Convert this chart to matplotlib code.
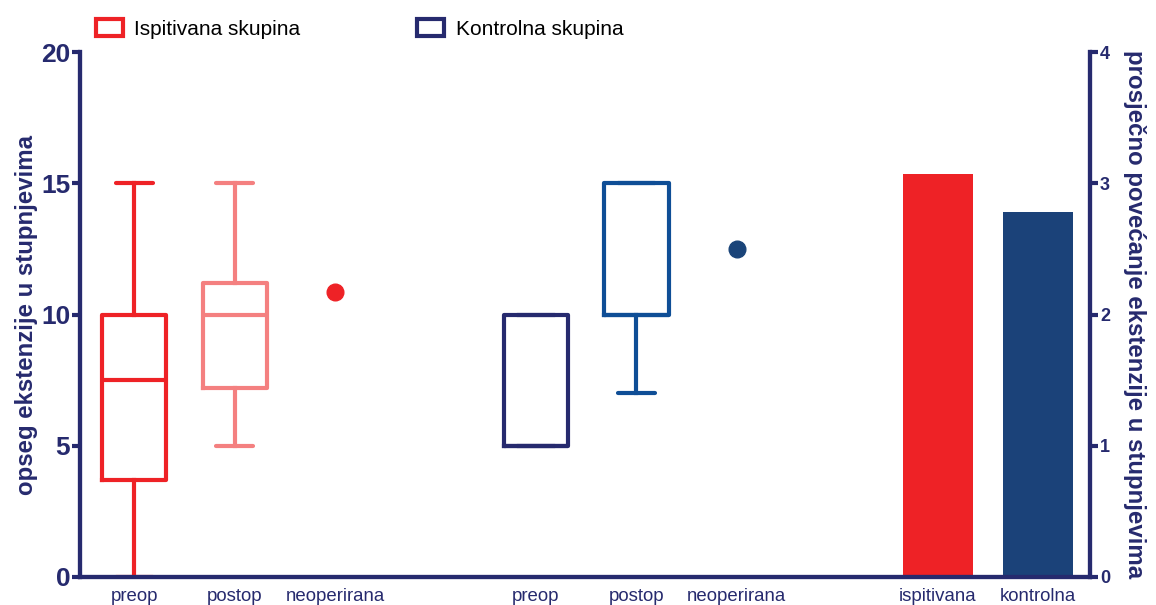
import matplotlib.pyplot as plt
from matplotlib.patches import Patch

plt.rcParams['font.family'] = ['Liberation Sans', 'DejaVu Sans']

NAVY = '#262A6E'

# box plot data (left axis, degrees)
box_pos = [1, 2, 5, 6]
box_whislo = [0, 5, 5, 7]
box_q1 = [3.7, 7.2, 5, 10]
box_med = [7.5, 10, 5, 10]
box_q3 = [10, 11.2, 10, 15]
box_whishi = [15, 15, 10, 15]
box_colors = ['#EE2226', '#F48080', '#262A6E', '#0F4E96']

# single points (neoperirana)
pt_pos = [3, 7]
pt_vals = [10.86, 12.5]
pt_colors = ['#EE2226', '#1A4479']

# bars (right axis, average increase)
bar_pos = [9, 10]
bar_vals = [3.07, 2.78]
bar_colors = ['#EE2226', '#1B4279']

tick_pos = [1, 2, 3, 5, 6, 7, 9, 10]
tick_labels = ['preop', 'postop', 'neoperirana', 'preop', 'postop',
               'neoperirana', 'ispitivana', 'kontrolna']

fig = plt.figure(figsize=(11.56, 6.05), dpi=100)
ax = fig.add_axes([0.0692, 0.0463, 0.874, 0.8677])
ax2 = ax.twinx()

stats = []
for i in range(len(box_pos)):
    stats.append(dict(whislo=box_whislo[i], q1=box_q1[i], med=box_med[i],
                      q3=box_q3[i], whishi=box_whishi[i], fliers=[]))
lw = 3
res = ax.bxp(stats, positions=box_pos, widths=0.64, showfliers=False,
             capwidths=0.37, manage_ticks=False)
for i, c in enumerate(box_colors):
    res['boxes'][i].set(color=c, linewidth=lw, solid_joinstyle='round')
    res['medians'][i].set(color=c, linewidth=lw)
    for j in (2 * i, 2 * i + 1):
        res['whiskers'][j].set(color=c, linewidth=lw)
        res['caps'][j].set(color=c, linewidth=lw, solid_capstyle='round')

for p, v, c in zip(pt_pos, pt_vals, pt_colors):
    ax.plot(p, v, 'o', color=c, markersize=12)

ax2.bar(bar_pos, bar_vals, width=0.7, color=bar_colors)

ax.set_xlim(0.46, 10.52)
ax.set_ylim(0, 20)
ax2.set_ylim(0, 4)
ax.set_yticks([0, 5, 10, 15, 20])
ax2.set_yticks([0, 1, 2, 3, 4])
ax.set_xticks(tick_pos)
ax.set_xticklabels(tick_labels, fontsize=13.4, color=NAVY)
ax.tick_params(axis='x', length=0, pad=8)
ax.tick_params(axis='y', colors=NAVY, width=3, length=6, labelsize=19, pad=1)
ax2.tick_params(axis='y', colors=NAVY, width=3, length=6, labelsize=13, pad=1)
for lab in ax.get_yticklabels():
    lab.set_fontweight('bold')
for lab in ax2.get_yticklabels():
    lab.set_fontweight('bold')

for a in (ax, ax2):
    a.spines['top'].set_visible(False)
    for s in ('left', 'right', 'bottom'):
        a.spines[s].set_color(NAVY)
        a.spines[s].set_linewidth(3)
ax.set_zorder(ax2.get_zorder() + 1)
ax.patch.set_visible(False)

ax.set_ylabel('opseg ekstenzije u stupnjevima', fontsize=17.3,
              fontweight='bold', color=NAVY, labelpad=2)
ax2.set_ylabel('prosječno povećanje ekstenzije u stupnjevima', fontsize=17.3,
               fontweight='bold', color=NAVY, rotation=-90, labelpad=26)

handles = [Patch(facecolor='white', edgecolor='#EE2226', linewidth=3),
           Patch(facecolor='white', edgecolor=NAVY, linewidth=3)]
fig.legend(handles, ['Ispitivana skupina', 'Kontrolna skupina'], ncol=2,
           loc='center left', bbox_to_anchor=(0.083, 0.952), frameon=False,
           fontsize=15, handlelength=1.3, handleheight=0.9,
           handletextpad=0.55, columnspacing=5.6, borderpad=0,
           borderaxespad=0)

fig.savefig('out.png', dpi=100)
